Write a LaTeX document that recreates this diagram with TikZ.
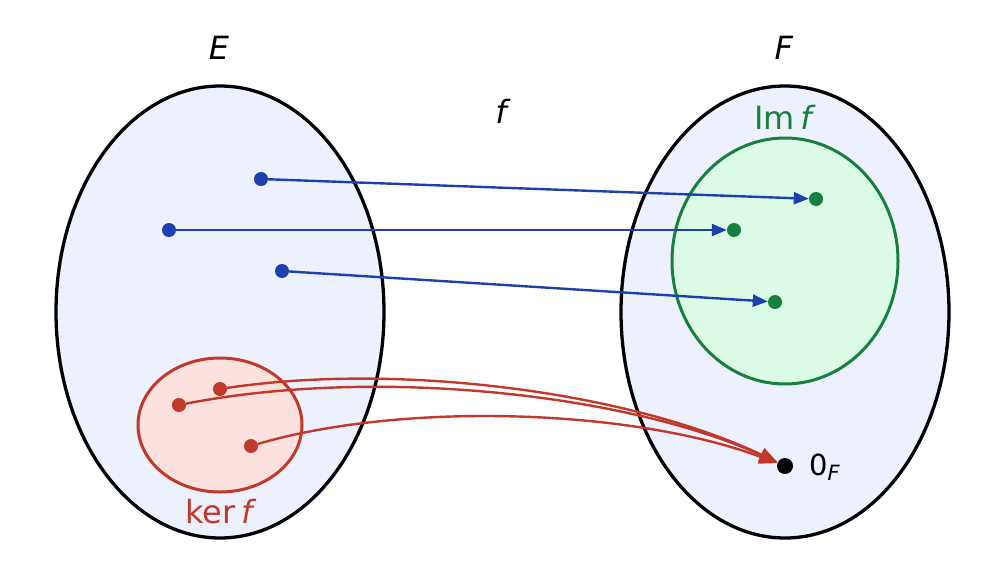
\documentclass[tikz,border=0pt]{standalone}
\usepackage{fontspec}
\setmainfont{DejaVu Sans}
\usetikzlibrary{arrows.meta,shapes.geometric}
\definecolor{setfill}{HTML}{EDF1FE}
\definecolor{imfill}{HTML}{DCFBE7}
\definecolor{imdraw}{HTML}{16803C}
\definecolor{kerfill}{HTML}{FDE1DE}
\definecolor{kerdraw}{HTML}{C0392B}
\definecolor{arrblue}{HTML}{1E3FAE}
\tikzset{
  setshape/.style={ellipse, draw=black, line width=3.3pt, fill=setfill, inner sep=0pt},
  imshape/.style={ellipse, draw=imdraw, line width=3pt, fill=imfill, inner sep=0pt},
  kershape/.style={ellipse, draw=kerdraw, line width=3pt, fill=kerfill, inner sep=0pt},
  dot/.style={circle, inner sep=0pt, minimum size=14pt},
  bluearrow/.style={draw=arrblue, line width=2.4pt, -{Triangle[length=15pt,width=12pt]}},
  redarrow/.style={draw=kerdraw, line width=2.4pt, -{Triangle[length=18pt,width=14pt]}},
  biglabel/.style={font=\fontsize{32}{34}\selectfont, inner sep=0pt},
}
\begin{document}
\begin{tikzpicture}[x=1pt,y=-1pt]
\useasboundingbox[fill=white] (0,0) rectangle (1005,584);
% sets
\node[setshape, minimum width=328pt, minimum height=452pt] (E) at (220,312) {};
\node[setshape, minimum width=328pt, minimum height=452pt] (F) at (785,312) {};
\node[imshape, minimum width=226pt, minimum height=246pt] (Im) at (785,261) {};
\node[kershape, minimum width=164pt, minimum height=134pt] (ker) at (220,425) {};
% labels
\node[biglabel] (lE) at (219,48) {\textit{E}};
\node[biglabel] (lF) at (784,48) {\textit{F}};
\node[biglabel] (lf) at (503,111) {\textit{f}};
\node[biglabel, text=imdraw] (lIm) at (785,117) {Im\,\textit{f}};
\node[biglabel, text=kerdraw] (lker) at (221,512) {ker\,\textit{f}};
% points
\node[dot, fill=arrblue] (b1) at (261,179) {};
\node[dot, fill=arrblue] (b2) at (169,230) {};
\node[dot, fill=arrblue] (b3) at (282,271) {};
\node[dot, fill=imdraw] (g1) at (816,199) {};
\node[dot, fill=imdraw] (g2) at (734,230) {};
\node[dot, fill=imdraw] (g3) at (775,302) {};
\node[dot, fill=kerdraw] (r1) at (220,389) {};
\node[dot, fill=kerdraw] (r2) at (179,405) {};
\node[dot, fill=kerdraw] (r3) at (251,446) {};
\node[dot, fill=black, minimum size=16pt] (z) at (785,466) {};
\node[font=\fontsize{29}{31}\selectfont, inner sep=0pt, anchor=west] (lz) at (809,467) {0\raisebox{-0.3ex}{\fontsize{21}{21}\selectfont\textit{F}}};
% blue arrows
\draw[bluearrow] (b1) -- (g1);
\draw[bluearrow] (b2) -- (g2);
\draw[bluearrow] (b3) -- (g3);
% red arrows
\draw[redarrow] (r1) .. controls (400,362) and (630,392) .. (z);
\draw[redarrow] (r2) .. controls (380,366) and (630,395) .. (z);
\draw[redarrow] (r3) .. controls (400,402) and (630,408) .. (z);
\end{tikzpicture}
\end{document}
